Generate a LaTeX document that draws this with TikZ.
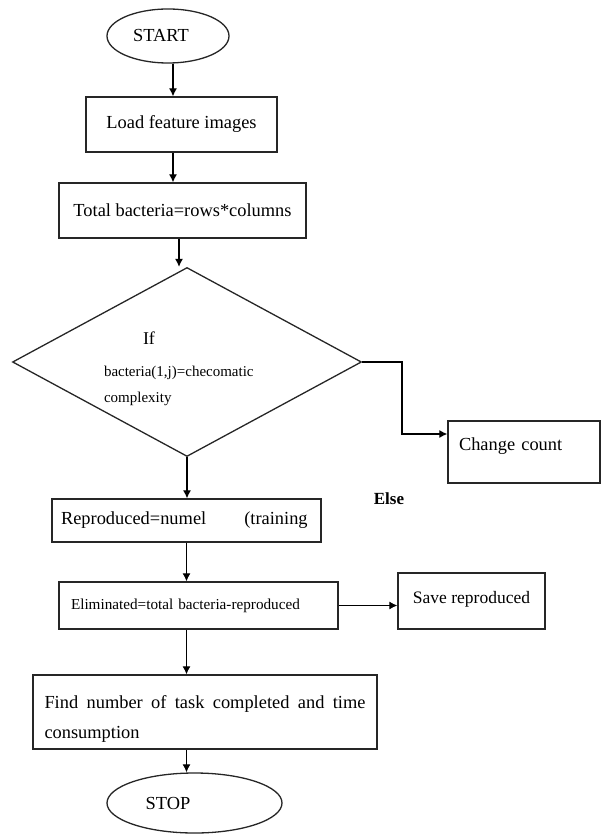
\documentclass[tikz,border=0pt]{standalone}
\usepackage{fontspec}
\setmainfont{Liberation Serif}
\usetikzlibrary{shapes.geometric, arrows.meta}
\tikzstyle{term} = [ellipse, draw = black!85, line width = 1.3pt, inner sep = 0pt, minimum width = 122pt, minimum height = 54pt]
\tikzstyle{proc} = [rectangle, draw = black!85, line width = 1.3pt, inner sep = 0pt, minimum height = 55pt]
\tikzstyle{decision} = [diamond, draw = black!85, line width = 1.3pt, inner sep = 0pt, shape aspect = 1.85, minimum width = 349pt, minimum height = 189pt]

\begin{document}
\begin{tikzpicture}[x = 1pt, y = -1pt, >={Latex[length = 8pt, width = 8pt]}, font = \fontsize{18.4}{22}\selectfont]
            \useasboundingbox (0, 0) rectangle (602, 834);
            \node (A) at (168, 36) [term] {START\hspace*{14pt}};
            \node (B) at (181.5, 124.5) [proc, minimum width = 191pt] {Load feature images};
            \node (C) at (182.5, 210.5) [proc, minimum width = 247pt] {Total bacteria=rows*columns};
            \node (D) at (187, 362) [decision, align = left, text height = 84pt, font = \fontsize{15}{26}\selectfont] {\hspace*{39pt}{\fontsize{18}{22}\selectfont If}\\[6pt]\makebox[166pt][l]{bacteria(1,j)=checomatic}\\complexity};
            \node (H) at (524, 452) [proc, minimum width = 152pt, minimum height = 62pt, text width = 130pt, align = left, text height = 13pt, text depth = 17pt] {Change count};
            \node (L) at (389, 499) [font = \fontsize{17}{20}\selectfont\bfseries] {Else};
            \node (R) at (186.5, 520.5) [proc, minimum width = 269pt, minimum height = 43pt, text width = 251pt, align = left] {Reproduced=numel\hspace{38pt}\mbox{(training}};
            \node (F) at (198.5, 605.5) [proc, minimum width = 279pt, minimum height = 47pt, text width = 255pt, align = left, font = \fontsize{15.2}{18}\selectfont] {Eliminated=total bacteria-reproduced};
            \node (S) at (471.5, 601) [proc, minimum width = 147pt, minimum height = 56pt, text height = 13pt, text depth = 9pt, font = \fontsize{17.5}{21}\selectfont] {Save reproduced};
            \node (G) at (205, 712) [proc, minimum width = 344pt, minimum height = 74pt, text width = 321pt, align = justify, text height = 13pt, text depth = 21pt, font = \fontsize{18.4}{30}\selectfont] {Find number of task completed and time consumption};
            \node (P) at (194.5, 803) [term, minimum width = 175pt, minimum height = 60pt] {STOP\hspace*{53pt}};
            \coordinate (K) at (402, 362);
            \draw [->, line width = 1.2pt] ([xshift = 5pt] A.south) -- ([xshift = 5pt] A.south |- B.north);
            \draw [->, line width = 1.2pt] ([xshift = -8.5pt] B.south) -- ([xshift = -8.5pt] B.south |- C.north);
            \draw [->, line width = 1.2pt] ([xshift = -3.5pt] C.south) -- ([xshift = -3.5pt] C.south |- D.north);
            \draw [->, line width = 1.2pt] (D.east) -- (K) |- ([yshift = 18pt] H.west);
            \draw [->, line width = 1.2pt] (D.south) -- (D.south |- R.north);
            \draw [->, line width = 1.2pt] (R.south) -- (R.south |- F.north);
            \draw [->, line width = 1.2pt] (F.east) -- (F.east -| S.west);
            \draw [->, line width = 1.2pt] (R.south |- F.south) -- (R.south |- G.north);
            \draw [->, line width = 1.2pt] (R.south |- G.south) -- (R.south |- P.north);
        \end{tikzpicture}
\end{document}
